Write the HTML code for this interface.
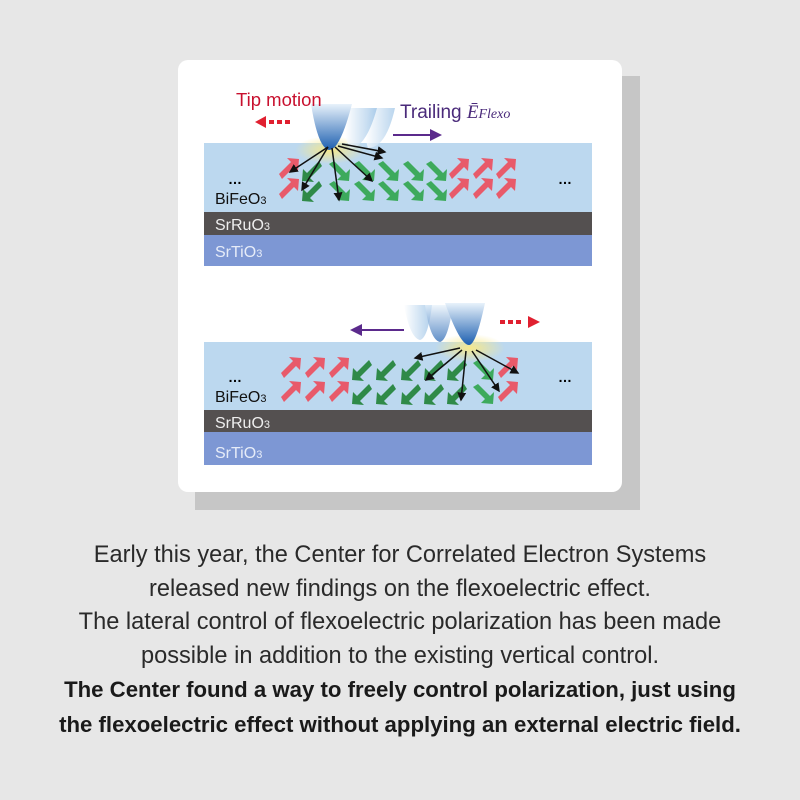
<!DOCTYPE html>
<html><head><style>
body{margin:0;width:800px;height:800px;background:#e7e7e7;position:relative;overflow:hidden;font-family:"Liberation Sans",sans-serif}
.sh{position:absolute;left:195px;top:76px;width:445px;height:434px;background:#c6c6c6}
.card{position:absolute;left:178px;top:60px;width:444px;height:432px;background:#fff;border-radius:10px}
.txt{position:absolute;left:0;top:539px;width:800px;text-align:center;font-size:23.6px;line-height:33.5px;color:#2a2a2a}
.txt b{font-weight:bold;font-size:22.2px;color:#1a1a1a}
</style></head><body>
<div class="sh"></div><div class="card"></div>
<svg width="800" height="800" style="position:absolute;left:0;top:0">
<defs>
<linearGradient id="tip" x1="0" y1="0" x2="0" y2="1"><stop offset="0" stop-color="#e8f2fb"/><stop offset="1" stop-color="#1d5fb0"/></linearGradient>
<linearGradient id="tipl" x1="0" y1="0" x2="1" y2="0"><stop offset="0" stop-color="#fff"/><stop offset="1" stop-color="#9cc3e6"/></linearGradient>
<radialGradient id="glow"><stop offset="0" stop-color="#f7e98a"/><stop offset="1" stop-color="#f7e98a" stop-opacity="0"/></radialGradient>
<marker id="ah" markerWidth="6" markerHeight="6" refX="5" refY="3" orient="auto"><path d="M0,0L6,3L0,6z" fill="#111"/></marker>
<marker id="ap" markerWidth="6" markerHeight="6" refX="5" refY="3" orient="auto"><path d="M0,0L6,3L0,6z" fill="#5b2a8c"/></marker>
<g id="ar"><path d="M-9,4 L3,-8 L-1,-12 L11,-11 L10,1 L6,-3 L-6,9z"/></g>
</defs>
<!-- panel 1 -->
<rect x="204" y="143" width="388" height="69" fill="#bcd8ef"/>
<rect x="204" y="212" width="388" height="23" fill="#545050"/>
<rect x="204" y="235" width="388" height="31" fill="#7d97d4"/>
<ellipse cx="330" cy="150" rx="35" ry="14" fill="url(#glow)"/>
<path d="M371,108 L395,108 Q386,148 368,148 Q362,130 371,108z" fill="url(#tipl)" opacity=".7"/>
<path d="M350,108 L377,108 Q366,148 350,148 Q340,130 350,108z" fill="url(#tipl)" opacity=".8"/>
<path d="M311,104 L352,104 Q340,150 329,150 Q318,148 311,104z" fill="url(#tip)"/>
<text x="236" y="106" font-size="18.5" fill="#c8102e">Tip motion</text>
<path d="M255,122 L266,116 L266,128z" fill="#e02030"/>
<rect x="269" y="120" width="5" height="4" fill="#e02030"/><rect x="277" y="120" width="5" height="4" fill="#e02030"/><rect x="285" y="120" width="5" height="4" fill="#e02030"/>
<text x="400" y="118" font-size="19" fill="#4a2a7a">Trailing <tspan font-family="Liberation Serif" font-style="italic">Ē</tspan><tspan font-family="Liberation Serif" font-style="italic" font-size="14">Flexo</tspan></text>
<line x1="393" y1="135" x2="440" y2="135" stroke="#5b2a8c" stroke-width="2" marker-end="url(#ap)"/>
<text x="228" y="184" font-size="14" font-weight="bold">…</text><text x="558" y="184" font-size="14" font-weight="bold">…</text>
<text x="215" y="204" font-size="16" fill="#111">BiFeO<tspan font-size="11">3</tspan></text>
<text x="215" y="230" font-size="16" fill="#eee">SrRuO<tspan font-size="11">3</tspan></text>
<text x="215" y="257" font-size="16" fill="#e6ecf8">SrTiO<tspan font-size="11">3</tspan></text>
<g fill="#e85a6a"><use href="#ar" x="288" y="170"/><use href="#ar" x="288" y="190"/>
<use href="#ar" x="458" y="170"/><use href="#ar" x="482" y="170"/><use href="#ar" x="505" y="170"/>
<use href="#ar" x="458" y="190"/><use href="#ar" x="482" y="190"/><use href="#ar" x="505" y="190"/></g>
<g fill="#3daa5c">
<use href="#ar" transform="translate(313,170) rotate(180)" fill="#2f8a48"/><use href="#ar" transform="translate(313,190) rotate(180)" fill="#2f8a48"/>
<use href="#ar" transform="translate(338,170) rotate(90)"/><use href="#ar" transform="translate(338,190) rotate(90)"/>
<use href="#ar" transform="translate(363,170) rotate(90)"/><use href="#ar" transform="translate(363,190) rotate(90)"/>
<use href="#ar" transform="translate(387,170) rotate(90)"/><use href="#ar" transform="translate(387,190) rotate(90)"/>
<use href="#ar" transform="translate(412,170) rotate(90)"/><use href="#ar" transform="translate(412,190) rotate(90)"/>
<use href="#ar" transform="translate(435,170) rotate(90)"/><use href="#ar" transform="translate(435,190) rotate(90)"/></g>
<g stroke="#111" stroke-width="1.5" marker-end="url(#ah)">
<line x1="328" y1="147" x2="290" y2="172"/><line x1="328" y1="147" x2="302" y2="190"/><line x1="332" y1="148" x2="339" y2="200"/>
<line x1="335" y1="147" x2="372" y2="181"/><line x1="338" y1="146" x2="382" y2="158"/><line x1="342" y1="144" x2="385" y2="152"/>
</g>
<!-- panel 2 -->
<rect x="204" y="342" width="388" height="68" fill="#bcd8ef"/>
<rect x="204" y="410" width="388" height="22" fill="#545050"/>
<rect x="204" y="432" width="388" height="33" fill="#7d97d4"/>
<ellipse cx="470" cy="348" rx="35" ry="14" fill="url(#glow)"/>
<path d="M404,305 L432,305 Q428,338 420,340 Q410,338 404,305z" fill="url(#tipl)" opacity=".8"/>
<path d="M425,305 L453,305 Q448,340 440,342 Q430,340 425,305z" fill="url(#tip)" opacity=".7"/>
<path d="M445,303 L485,303 Q476,345 469,345 Q460,345 445,303z" fill="url(#tip)"/>
<line x1="404" y1="330" x2="352" y2="330" stroke="#5b2a8c" stroke-width="2" marker-end="url(#ap)"/>
<rect x="500" y="320" width="5" height="4" fill="#e02030"/><rect x="508" y="320" width="5" height="4" fill="#e02030"/><rect x="516" y="320" width="5" height="4" fill="#e02030"/>
<path d="M540,322 L528,316 L528,328z" fill="#e02030"/>
<text x="228" y="382" font-size="14" font-weight="bold">…</text><text x="558" y="382" font-size="14" font-weight="bold">…</text>
<text x="215" y="402" font-size="16" fill="#111">BiFeO<tspan font-size="11">3</tspan></text>
<text x="215" y="428" font-size="16" fill="#eee">SrRuO<tspan font-size="11">3</tspan></text>
<text x="215" y="458" font-size="16" fill="#e6ecf8">SrTiO<tspan font-size="11">3</tspan></text>
<g fill="#e85a6a"><use href="#ar" x="290" y="369"/><use href="#ar" x="314" y="369"/><use href="#ar" x="338" y="369"/>
<use href="#ar" x="290" y="393"/><use href="#ar" x="314" y="393"/><use href="#ar" x="338" y="393"/>
<use href="#ar" x="507" y="369"/><use href="#ar" x="507" y="393"/></g>
<g fill="#2f8a48">
<use href="#ar" transform="translate(363,369) rotate(180)"/><use href="#ar" transform="translate(363,393) rotate(180)"/>
<use href="#ar" transform="translate(387,369) rotate(180)"/><use href="#ar" transform="translate(387,393) rotate(180)"/>
<use href="#ar" transform="translate(412,369) rotate(180)"/><use href="#ar" transform="translate(412,393) rotate(180)"/>
<use href="#ar" transform="translate(435,369) rotate(180)"/><use href="#ar" transform="translate(435,393) rotate(180)"/>
<use href="#ar" transform="translate(458,369) rotate(180)"/><use href="#ar" transform="translate(458,393) rotate(180)"/>
<use href="#ar" transform="translate(482,369) rotate(90)" fill="#3daa5c"/><use href="#ar" transform="translate(482,393) rotate(90)" fill="#3daa5c"/></g>
<g stroke="#111" stroke-width="1.5" marker-end="url(#ah)">
<line x1="460" y1="348" x2="415" y2="358"/><line x1="462" y1="350" x2="426" y2="380"/><line x1="466" y1="351" x2="461" y2="400"/>
<line x1="472" y1="351" x2="499" y2="391"/><line x1="476" y1="350" x2="518" y2="373"/>
</g>
</svg>
<div class="txt">Early this year, the Center for Correlated Electron Systems<br>released new findings on the flexoelectric effect.<br>The lateral control of flexoelectric polarization has been made<br>possible in addition to the existing vertical control.<br><b>The Center found a way to freely control polarization, just using<br>the flexoelectric effect without applying an external electric field.</b></div>
</body></html>
